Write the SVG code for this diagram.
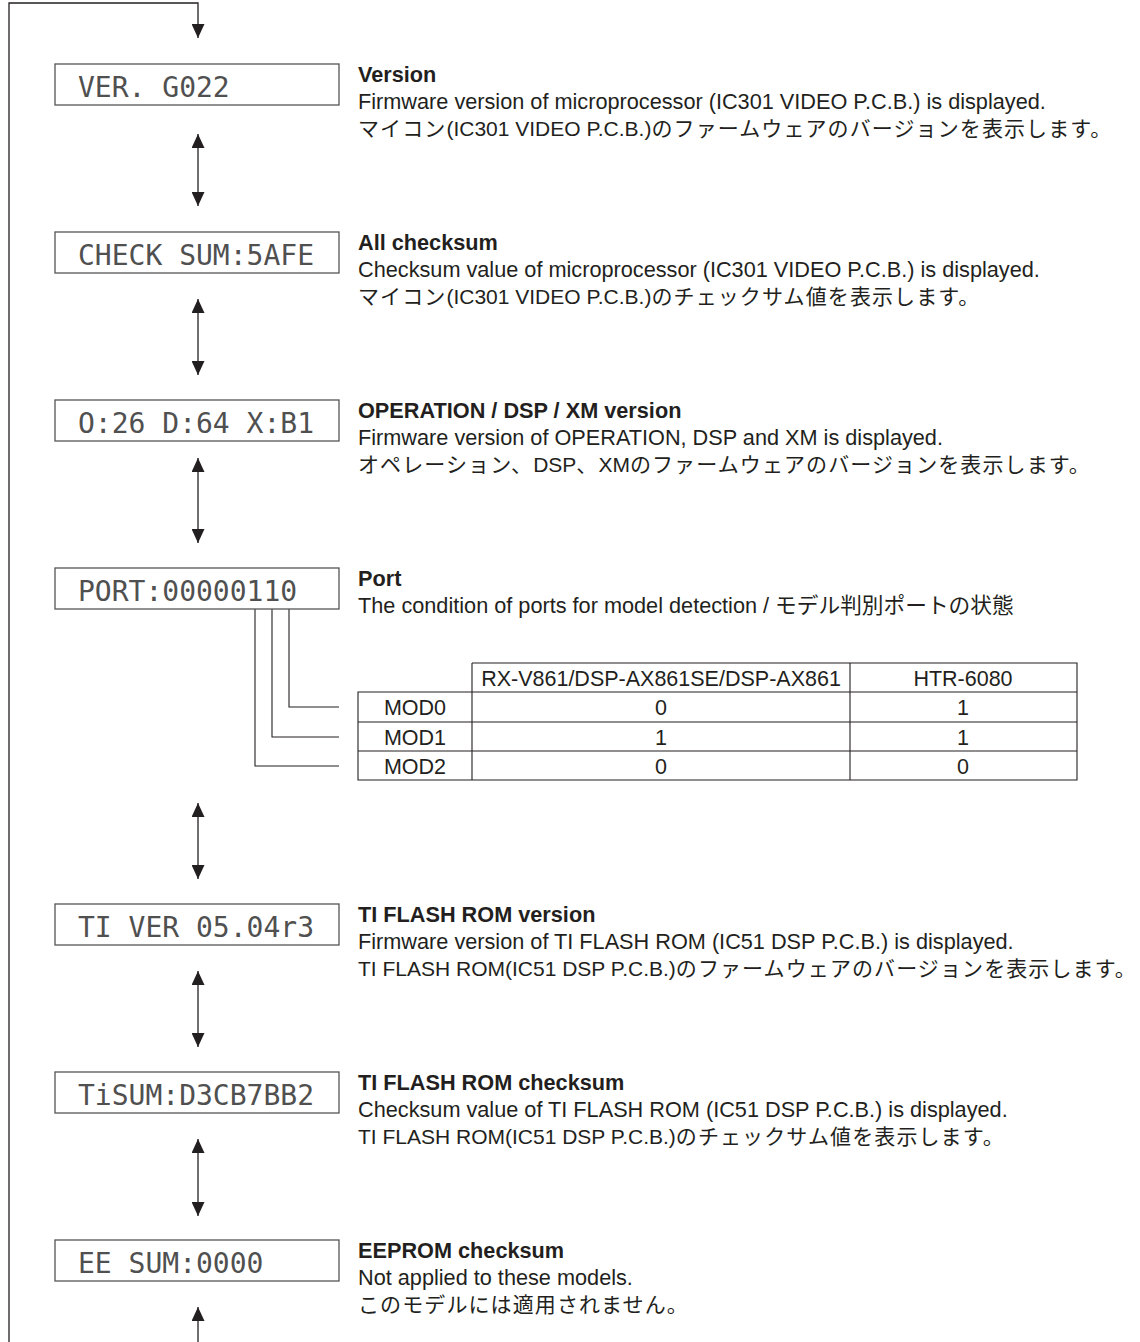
<svg xmlns="http://www.w3.org/2000/svg" width="1140" height="1342" viewBox="0 0 1140 1342">
<defs>
<style>
.box{fill:#fff;stroke:#555;stroke-width:1.3}
.lcd{font-family:"DejaVu Sans Mono","Liberation Mono",monospace;font-size:28px;fill:#505050}
.h{font-family:"Liberation Sans","Noto Sans CJK JP",sans-serif;font-size:21.7px;font-weight:bold;fill:#231f20}
.t{font-family:"Liberation Sans","Noto Sans CJK JP",sans-serif;font-size:21.7px;fill:#231f20}
.j{font-family:"Liberation Sans","Noto Sans CJK JP",sans-serif;font-size:21px;fill:#231f20}
.k{letter-spacing:1.1px}
.tc{font-family:"Liberation Sans","Noto Sans CJK JP",sans-serif;font-size:21.5px;fill:#231f20;text-anchor:middle}
.ln{fill:none;stroke:#231f20;stroke-width:1.3}
.tb{fill:none;stroke:#231f20;stroke-width:1.1}
</style>
<marker id="ah" viewBox="0 0 14 13" refX="14" refY="6.5" markerWidth="14" markerHeight="13" markerUnits="userSpaceOnUse" orient="auto-start-reverse">
<path d="M0,0 L14,6.5 L0,13 z" fill="#231f20"/>
</marker>
</defs>
<rect width="1140" height="1342" fill="#fff"/>

<g id="connectors">
<path class="ln" d="M9,1342 V3 H198 V38" marker-end="url(#ah)"/>
<line class="ln" x1="198" y1="134" x2="198" y2="206" marker-start="url(#ah)" marker-end="url(#ah)"/>
<line class="ln" x1="198" y1="299" x2="198" y2="375" marker-start="url(#ah)" marker-end="url(#ah)"/>
<line class="ln" x1="198" y1="458" x2="198" y2="543" marker-start="url(#ah)" marker-end="url(#ah)"/>
<line class="ln" x1="198" y1="803" x2="198" y2="879" marker-start="url(#ah)" marker-end="url(#ah)"/>
<line class="ln" x1="198" y1="971" x2="198" y2="1047" marker-start="url(#ah)" marker-end="url(#ah)"/>
<line class="ln" x1="198" y1="1139" x2="198" y2="1216" marker-start="url(#ah)" marker-end="url(#ah)"/>
<line class="ln" x1="198" y1="1307" x2="198" y2="1342" marker-start="url(#ah)"/>
<g id="port-leaders" class="tb">
<path d="M248,604 H262 M255,604 V766 H339"/>
<path d="M265,604 H279 M272,604 V737 H339"/>
<path d="M282,604 H296 M289,604 V707 H339"/>
</g>
</g>

<g id="node-ver">
<rect class="box" x="55" y="64" width="284" height="41"/>
<text class="lcd" x="78" y="97">VER. G022</text>
<text class="h" x="358" y="82">Version</text>
<text class="t" x="358" y="109">Firmware version of microprocessor (IC301 VIDEO P.C.B.) is displayed.</text>
<text class="j" x="358" y="136"><tspan class="k">マイコン</tspan>(IC301 VIDEO P.C.B.)<tspan class="k">のファームウェアのバージョンを表示します。</tspan></text>
</g>

<g id="node-checksum">
<rect class="box" x="55" y="232" width="284" height="41"/>
<text class="lcd" x="78" y="265">CHECK SUM:5AFE</text>
<text class="h" x="358" y="250">All checksum</text>
<text class="t" x="358" y="277">Checksum value of microprocessor (IC301 VIDEO P.C.B.) is displayed.</text>
<text class="j" x="358" y="304"><tspan class="k">マイコン</tspan>(IC301 VIDEO P.C.B.)<tspan class="k">のチェックサム値を表示します。</tspan></text>
</g>

<g id="node-opdspxm">
<rect class="box" x="55" y="400" width="284" height="41"/>
<text class="lcd" x="78" y="433">O:26 D:64 X:B1</text>
<text class="h" x="358" y="418">OPERATION / DSP / XM version</text>
<text class="t" x="358" y="445">Firmware version of OPERATION, DSP and XM is displayed.</text>
<text class="j" x="358" y="472"><tspan class="k">オペレーション、</tspan>DSP<tspan class="k">、</tspan>XM<tspan class="k">のファームウェアのバージョンを表示します。</tspan></text>
</g>

<g id="node-port">
<rect class="box" x="55" y="568" width="284" height="41"/>
<text class="lcd" x="78" y="601">PORT:00000110</text>
<text class="h" x="358" y="586">Port</text>
<text class="t" x="358" y="613">The condition of ports for model detection / モデル判別ポートの状態</text>
</g>

<g id="port-table">
<path class="tb" d="M472,663 H1077 V780 H358 V692 H1077 M358,722 H1077 M358,751 H1077 M472,663 V780 M850,663 V780"/>
<text class="tc" x="661" y="686">RX-V861/DSP-AX861SE/DSP-AX861</text>
<text class="tc" x="963" y="686">HTR-6080</text>
<text class="tc" x="415" y="715">MOD0</text>
<text class="tc" x="661" y="715">0</text>
<text class="tc" x="963" y="715">1</text>
<text class="tc" x="415" y="745">MOD1</text>
<text class="tc" x="661" y="745">1</text>
<text class="tc" x="963" y="745">1</text>
<text class="tc" x="415" y="774">MOD2</text>
<text class="tc" x="661" y="774">0</text>
<text class="tc" x="963" y="774">0</text>
</g>

<g id="node-tiver">
<rect class="box" x="55" y="904" width="284" height="41"/>
<text class="lcd" x="78" y="937">TI VER 05.04r3</text>
<text class="h" x="358" y="922">TI FLASH ROM version</text>
<text class="t" x="358" y="949">Firmware version of TI FLASH ROM (IC51 DSP P.C.B.) is displayed.</text>
<text class="j" x="358" y="976">TI FLASH ROM(IC51 DSP P.C.B.)<tspan class="k">のファームウェアのバージョンを表示します。</tspan></text>
</g>

<g id="node-tisum">
<rect class="box" x="55" y="1072" width="284" height="41"/>
<text class="lcd" x="78" y="1105">TiSUM:D3CB7BB2</text>
<text class="h" x="358" y="1090">TI FLASH ROM checksum</text>
<text class="t" x="358" y="1117">Checksum value of TI FLASH ROM (IC51 DSP P.C.B.) is displayed.</text>
<text class="j" x="358" y="1144">TI FLASH ROM(IC51 DSP P.C.B.)<tspan class="k">のチェックサム値を表示します。</tspan></text>
</g>

<g id="node-eesum">
<rect class="box" x="55" y="1240" width="284" height="41"/>
<text class="lcd" x="78" y="1273">EE SUM:0000</text>
<text class="h" x="358" y="1258">EEPROM checksum</text>
<text class="t" x="358" y="1285">Not applied to these models.</text>
<text class="j" x="358" y="1312"><tspan class="k">このモデルには適用されません。</tspan></text>
</g>
</svg>
